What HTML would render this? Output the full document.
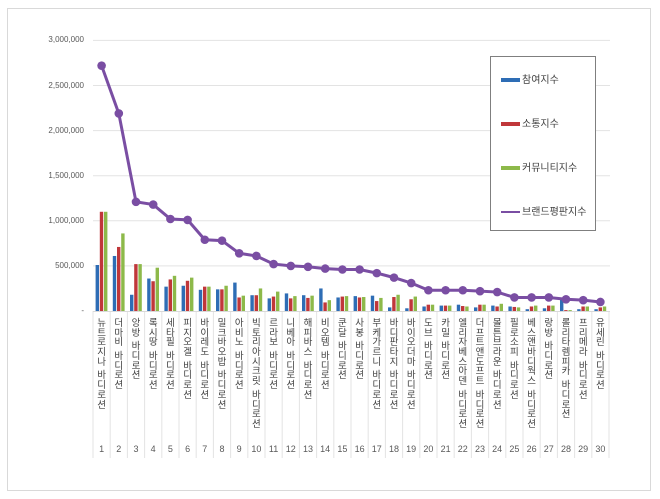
<!DOCTYPE html>
<html><head><meta charset="utf-8"><style>
body{margin:0;background:#fff;width:660px;height:499px;overflow:hidden;position:relative;font-family:"Liberation Sans","Noto Sans CJK KR",sans-serif}
.frame{position:absolute;left:7px;top:8px;width:644px;height:483px;border:1px solid #d9d9d9;box-sizing:border-box}
.lab{position:absolute;top:318px;width:12px;font-size:9.5px;color:#404040;font-family:"Noto Sans CJK KR",sans-serif;text-align:center}
.lab div{height:9.7px;line-height:9.7px}
.lab div.sp{height:4px}
.num{position:absolute;top:444px;font-size:9px;color:#595959;text-align:center;width:17px}
.yl{position:absolute;font-size:8px;color:#595959;text-align:right;width:70px;left:14px}
.leg{position:absolute;left:490px;top:56px;width:106px;height:175px;border:1px solid #7f7f7f;background:#fff;box-sizing:border-box}
.li{position:absolute;left:10px;font-size:10px;color:#404040;font-family:"Noto Sans CJK KR",sans-serif;white-space:nowrap}
.sw{display:inline-block;width:19px;height:4px;vertical-align:middle;margin-right:2px}
</style></head><body>
<div class="frame"></div>
<svg id="s" width="660" height="499" style="position:absolute;left:0;top:0"></svg>
<div id="h"></div>
<div class="leg">
<div class="li" style="top:14px"><span class="sw" style="background:#2e6db5"></span>참여지수</div>
<div class="li" style="top:58px"><span class="sw" style="background:#c0373a"></span>소통지수</div>
<div class="li" style="top:102px"><span class="sw" style="background:#8db94a"></span>커뮤니티지수</div>
<div class="li" style="top:146px"><span class="sw" style="background:#7a4ea3;height:2px;position:relative"></span>브랜드평판지수</div>
</div>
<script>
var names=["뉴트로지나 바디로션","더마비 바디로션","앙방 바디로션","록시땅 바디로션","세타필 바디로션","피지오겔 바디로션","바이레도 바디로션","밀크바오밥 바디로션","아비노 바디로션","빅토리아시크릿 바디로션","르라보 바디로션","니베아 바디로션","해피바스 바디로션","비오템 바디로션","쿤달 바디로션","사봉 바디로션","부케가르니 바디로션","바디판타지 바디로션","바이오더마 바디로션","도브 바디로션","카밀 바디로션","엘리자베스아덴 바디로션","더프트앤도프트 바디로션","몰튼브라운 바디로션","필로소피 바디로션","베스앤바디웍스 바디로션","랑방 바디로션","롤리타렘피카 바디로션","프리메라 바디로션","유세린 바디로션"];
var line=[2720,2190,1210,1180,1020,1010,790,780,640,610,520,500,490,470,460,460,420,370,310,230,230,230,220,210,150,150,150,130,120,100];
var b=[[510,1100,1100],[610,710,860],[180,520,520],[360,330,480],[270,350,390],[280,335,370],[235,270,270],[240,240,280],[315,150,170],[175,175,250],[140,160,215],[195,140,165],[175,145,170],[250,95,120],[150,160,165],[165,150,155],[170,110,145],[40,155,180],[30,130,160],[50,70,70],[60,60,60],[70,55,50],[40,70,70],[60,50,80],[50,45,40],[20,50,60],[30,60,60],[130,10,10],[20,50,50],[20,40,50]];
var x0=93,w=17.2,y0=311,sc=45.1/500;
var s='';
var yl=['0','500,000','1,000,000','1,500,000','2,000,000','2,500,000','3,000,000'];
var h='';
for(var i=0;i<=6;i++){var y=y0-i*45.1;if(i>0)s+='<line x1="93" x2="610" y1="'+y+'" y2="'+y+'" stroke="#e3e3e3" stroke-width="1"/>';h+='<div class="yl" style="top:'+(y-5)+'px">'+(i==0?'-':yl[i])+'</div>';}
for(var i=0;i<=30;i++){var x=x0+i*w;s+='<line x1="'+x+'" x2="'+x+'" y1="311" y2="458" stroke="#e3e3e3"/>';}
s+='<line x1="93" x2="610" y1="311.5" y2="311.5" stroke="#d9d9d9"/>';
var cols=['#2e6db5','#c0373a','#8db94a'];
for(var i=0;i<30;i++){var cx=x0+i*w+w/2;for(var k=0;k<3;k++){var hh=b[i][k]*sc;s+='<rect x="'+(cx-6+k*4.2)+'" y="'+(y0-hh)+'" width="3.4" height="'+hh+'" fill="'+cols[k]+'"/>';}
var c='';for(var j=0;j<names[i].length;j++){var ch=names[i][j];c+=ch==' '?'<div class="sp"></div>':'<div>'+ch+'</div>';}
h+='<div class="lab" style="left:'+(cx-6)+'px">'+c+'</div><div class="num" style="left:'+(cx-8.5)+'px">'+(i+1)+'</div>';}
var p='';for(var i=0;i<30;i++){var cx=x0+i*w+w/2;p+=(i?'L':'M')+cx+' '+(y0-line[i]*sc);}
s+='<path d="'+p+'" fill="none" stroke="#7a4ea3" stroke-width="3"/>';
for(var i=0;i<30;i++){var cx=x0+i*w+w/2;s+='<circle cx="'+cx+'" cy="'+(y0-line[i]*sc)+'" r="4.3" fill="#7a4ea3"/>';}
document.getElementById('s').innerHTML=s;document.getElementById('h').innerHTML=h;
</script>
</body></html>
